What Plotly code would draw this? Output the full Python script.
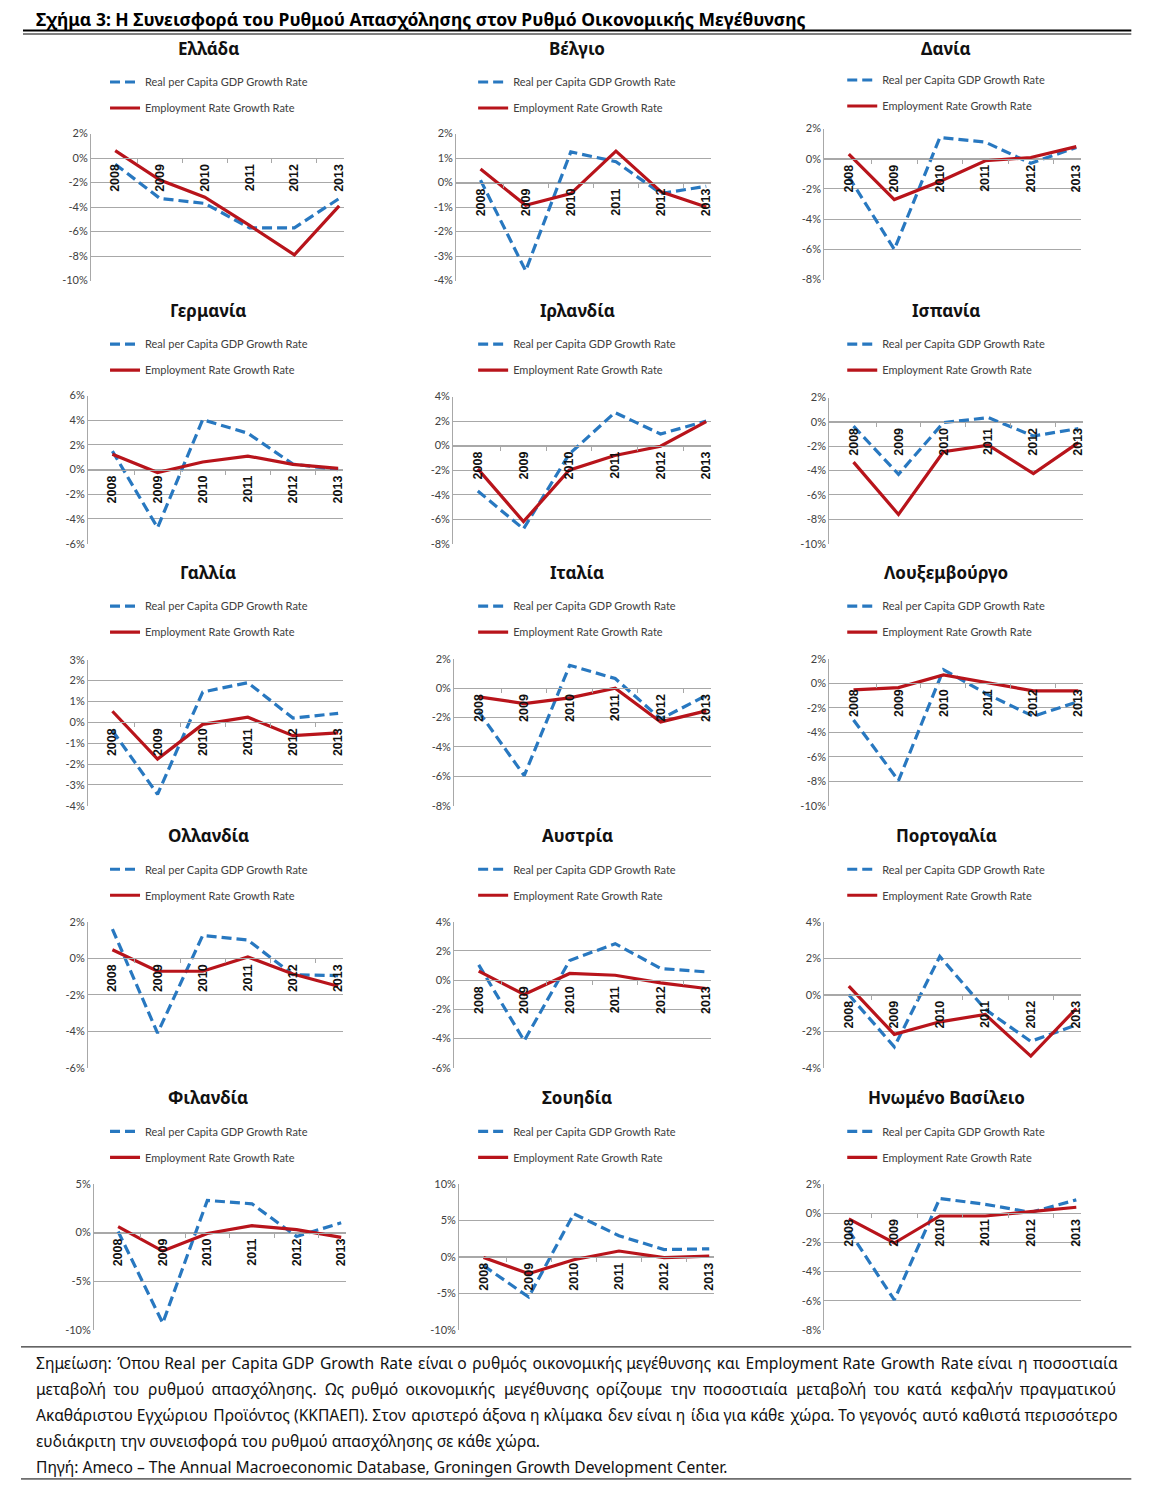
import plotly.graph_objects as go

W, H = 1167, 1494

years = [2008, 2009, 2010, 2011, 2012, 2013]
year_labels = ["2008", "2009", "2010", "2011", "2012", "2013"]

countries = ["Ελλάδα", "Βέλγιο", "Δανία",
             "Γερμανία", "Ιρλανδία", "Ισπανία",
             "Γαλλία", "Ιταλία", "Λουξεμβούργο",
             "Ολλανδία", "Αυστρία", "Πορτογαλία",
             "Φιλανδία", "Σουηδία", "Ηνωμένο Βασίλειο"]

series_names = ["Real per Capita GDP Growth Rate", "Employment Rate Growth Rate"]

# Real per capita GDP growth rate (%)
gdp_greece = [-0.5, -3.3, -3.7, -5.7, -5.7, -3.3]
gdp_belgium = [0.1, -3.6, 1.25, 0.85, -0.45, -0.15]
gdp_denmark = [-1.2, -6.0, 1.4, 1.1, -0.3, 0.75]
gdp_germany = [1.5, -4.7, 4.05, 2.95, 0.45, 0.0]
gdp_ireland = [-3.7, -6.8, -0.7, 2.7, 0.95, 2.0]
gdp_spain = [-0.35, -4.3, -0.05, 0.35, -1.15, -0.55]
gdp_france = [-0.4, -3.45, 1.45, 1.9, 0.2, 0.43]
gdp_italy = [-1.6, -5.95, 1.55, 0.65, -2.1, -0.5]
gdp_luxembourg = [-3.0, -7.95, 1.1, -0.95, -2.7, -1.5]
gdp_netherlands = [1.6, -4.1, 1.25, 1.0, -0.9, -0.95]
gdp_austria = [1.05, -4.15, 1.35, 2.5, 0.8, 0.57]
gdp_portugal = [0.0, -2.85, 2.1, -0.8, -2.55, -1.65]
gdp_finland = [0.1, -9.3, 3.3, 2.95, -0.4, 1.0]
gdp_sweden = [-1.2, -5.5, 5.9, 2.9, 1.0, 1.1]
gdp_uk = [-1.2, -5.95, 1.0, 0.6, 0.05, 0.9]

# Employment rate growth rate (%)
emp_greece = [0.6, -1.8, -3.2, -5.5, -7.9, -3.9]
emp_belgium = [0.55, -0.93, -0.45, 1.28, -0.38, -1.0]
emp_denmark = [0.3, -2.7, -1.5, -0.13, 0.08, 0.8]
emp_germany = [1.25, -0.24, 0.62, 1.1, 0.43, 0.1]
emp_ireland = [-1.9, -6.2, -2.0, -0.8, -0.05, 1.96]
emp_spain = [-3.3, -7.6, -2.45, -1.9, -4.25, -1.7]
emp_france = [0.53, -1.76, -0.1, 0.24, -0.64, -0.51]
emp_italy = [-0.6, -1.05, -0.66, 0.0, -2.3, -1.55]
emp_luxembourg = [-0.55, -0.36, 0.68, 0.05, -0.63, -0.63]
emp_netherlands = [0.47, -0.71, -0.71, 0.07, -0.86, -1.53]
emp_austria = [0.62, -0.98, 0.46, 0.34, -0.18, -0.57]
emp_portugal = [0.47, -2.17, -1.48, -1.08, -3.36, -0.75]
emp_finland = [0.6, -1.9, -0.1, 0.7, 0.3, -0.5]
emp_sweden = [-0.1, -2.3, -0.4, 0.8, -0.1, 0.1]
emp_uk = [-0.4, -2.05, -0.2, -0.2, 0.1, 0.4]

gdp_all = [gdp_greece, gdp_belgium, gdp_denmark, gdp_germany, gdp_ireland, gdp_spain,
           gdp_france, gdp_italy, gdp_luxembourg, gdp_netherlands, gdp_austria, gdp_portugal,
           gdp_finland, gdp_sweden, gdp_uk]
emp_all = [emp_greece, emp_belgium, emp_denmark, emp_germany, emp_ireland, emp_spain,
           emp_france, emp_italy, emp_luxembourg, emp_netherlands, emp_austria, emp_portugal,
           emp_finland, emp_sweden, emp_uk]

# y-axis tick values (%) for each panel
yticks_all = [
    [-10, -8, -6, -4, -2, 0, 2],
    [-4, -3, -2, -1, 0, 1, 2],
    [-8, -6, -4, -2, 0, 2],
    [-6, -4, -2, 0, 2, 4, 6],
    [-8, -6, -4, -2, 0, 2, 4],
    [-10, -8, -6, -4, -2, 0, 2],
    [-4, -3, -2, -1, 0, 1, 2, 3],
    [-8, -6, -4, -2, 0, 2],
    [-10, -8, -6, -4, -2, 0, 2],
    [-6, -4, -2, 0, 2],
    [-6, -4, -2, 0, 2, 4],
    [-4, -2, 0, 2, 4],
    [-10, -5, 0, 5],
    [-10, -5, 0, 5, 10],
    [-8, -6, -4, -2, 0, 2],
]

notes_lines = [
    "Σημείωση: Όπου Real per Capita GDP Growth Rate είναι ο ρυθμός οικονομικής μεγέθυνσης και Employment Rate Growth Rate είναι η ποσοστιαία",
    "μεταβολή του ρυθμού απασχόλησης. Ως ρυθμό οικονομικής μεγέθυνσης ορίζουμε την ποσοστιαία μεταβολή του κατά κεφαλήν πραγματικού",
    "Ακαθάριστου Εγχώριου Προϊόντος (ΚΚΠΑΕΠ). Στον αριστερό άξονα η κλίμακα δεν είναι η ίδια για κάθε χώρα. Το γεγονός αυτό καθιστά περισσότερο",
    "ευδιάκριτη την συνεισφορά του ρυθμού απασχόλησης σε κάθε χώρα.",
    "Πηγή: Ameco – The Annual Macroeconomic Database, Groningen Growth Development Center.",
]
heading = "Σχήμα 3: Η Συνεισφορά του Ρυθμού Απασχόλησης στον Ρυθμό Οικονομικής Μεγέθυνσης"

# ---------------- layout (target pixel boxes: left, right, top, bottom) ----------------
boxes = [
    (90, 343, 133, 280), (455, 710, 133, 280), (823, 1080, 128, 279),
    (87, 342, 395, 543), (452, 710, 396, 543), (828, 1082, 397, 543),
    (87, 342, 659, 805), (453, 710, 658, 805), (828, 1082, 658, 805),
    (87, 342, 921, 1067), (453, 710, 921, 1067), (823, 1080, 921, 1067),
    (93, 345, 1183, 1329), (458, 713, 1183, 1329), (823, 1080, 1183, 1329),
]
title_cx = [207, 576, 945]
title_y = [48, 310, 572, 835, 1097]
legend_x = [104, 472, 841]
legend_top = [67, 329, 591, 854, 1116]
# approximate extra width (px) to spread over the word gaps (justified text)
justify_extra = [22, 58, 10, 0, 0]

BLUE = "#2878c0"
RED = "#b8141b"
GRID = "#a8a8a8"
XR = [2007.46, 2013.11]

# page-offset calibration (the page places the figure slightly offset/scaled)
OX, SX = 7.0, 0.998
OY, SY = 14.5, 0.991


def px_x(v):
    return ((v - OX) / SX) / W


def px_y(v):
    return 1 - ((v - OY) / SY) / H


def justify(text, extra, unit=1.6):
    words = text.split(" ")
    gaps = len(words) - 1
    if extra <= 0 or gaps <= 0:
        return text
    total = extra / unit
    out, acc, used = words[0], 0.0, 0
    for k, w in enumerate(words[1:], start=1):
        acc = total * k / gaps
        cnt = int(round(acc)) - used
        used += cnt
        out += " " + "\u200a" * cnt + w
    return out


fig = go.Figure()
layout = dict(
    width=W, height=H, margin=dict(l=0, r=0, t=0, b=0),
    paper_bgcolor="white", plot_bgcolor="white",
    font=dict(family="Lato, Open Sans, sans-serif", color="#404040", size=11),
)
annotations = []
shapes = []

for i, name in enumerate(countries):
    n = "" if i == 0 else str(i + 1)
    l, r, t, b = boxes[i]
    ticks = yticks_all[i]
    ymin, ymax = ticks[0], ticks[-1]
    leg = "legend" + n
    row, col = divmod(i, 3)

    fig.add_trace(go.Scatter(
        x=years, y=gdp_all[i], mode="lines", name=series_names[0],
        line=dict(color=BLUE, width=3.2, dash="10px,5px"),
        xaxis="x" + n, yaxis="y" + n, legend=leg, legendgroup=f"a{i}",
        hoverinfo="skip"))
    fig.add_trace(go.Scatter(
        x=years, y=emp_all[i], mode="lines", name=series_names[1],
        line=dict(color=RED, width=3.2),
        xaxis="x" + n, yaxis="y" + n, legend=leg, legendgroup=f"b{i}",
        hoverinfo="skip"))

    zero_px = t + (ymax - 0) / (ymax - ymin) * (b - t)
    layout["xaxis" + n] = dict(
        domain=[px_x(l), px_x(r)], anchor="free", position=px_y(zero_px),
        range=XR, tickmode="array", tickvals=years, ticktext=year_labels,
        tickangle=-90, ticks="", showgrid=False, zeroline=False,
        showline=True, linecolor=GRID, linewidth=1,
        tickfont=dict(family="Liberation Sans, Arial", size=12.5, color="#111111", weight="bold"),
        minor=dict(tickmode="array", tickvals=[2008.5, 2009.5, 2010.5, 2011.5, 2012.5],
                   ticks="outside", ticklen=4, tickcolor=GRID),
        fixedrange=True,
    )
    layout["yaxis" + n] = dict(
        domain=[px_y(b), px_y(t)], anchor="x" + n, range=[ymin, ymax],
        tickmode="array", tickvals=ticks, ticktext=[f"{v}%" for v in ticks],
        showgrid=True, gridcolor=GRID, gridwidth=1, zeroline=False,
        showline=True, linecolor=GRID, linewidth=1, ticks="",
        tickfont=dict(family="Lato, sans-serif", size=11, color="#404040"),
        fixedrange=True,
    )
    legend_y = legend_top[row] - (2 if i == 2 else 0)
    layout[leg] = dict(
        x=px_x(legend_x[col]), y=px_y(legend_y), xanchor="left", yanchor="top",
        bgcolor="rgba(0,0,0,0)", borderwidth=0, tracegroupgap=7,
        itemwidth=30,
        font=dict(family="Lato, sans-serif", size=11, color="#404040"),
    )
    annotations.append(dict(
        x=px_x(title_cx[col]), y=px_y(title_y[row]), xref="paper", yref="paper",
        text=f"<b>{name}</b>", showarrow=False, xanchor="center", yanchor="middle",
        font=dict(family="Noto Sans, sans-serif", size=17, color="#111111")))

# heading
annotations.append(dict(
    x=px_x(33), y=px_y(18), xref="paper", yref="paper", text=f"<b>{heading}</b>",
    showarrow=False, xanchor="left", yanchor="middle",
    font=dict(family="Noto Sans, sans-serif", size=17.5, color="#000000")))
shapes += [
    dict(type="line", xref="paper", yref="paper", x0=px_x(22), x1=px_x(1130),
         y0=px_y(30), y1=px_y(30), line=dict(color="#000", width=2)),
    dict(type="line", xref="paper", yref="paper", x0=px_x(22), x1=px_x(1130),
         y0=px_y(33.5), y1=px_y(33.5), line=dict(color="#000", width=1)),
    dict(type="line", xref="paper", yref="paper", x0=px_x(20), x1=px_x(1130),
         y0=px_y(1346), y1=px_y(1346), line=dict(color="#000", width=1)),
    dict(type="line", xref="paper", yref="paper", x0=px_x(20), x1=px_x(1130),
         y0=px_y(1478), y1=px_y(1478), line=dict(color="#000", width=1)),
]
for k, line in enumerate(notes_lines):
    annotations.append(dict(
        x=px_x(33), y=px_y(1362 + 26 * k), xref="paper", yref="paper",
        text=justify(line, justify_extra[k]),
        showarrow=False, xanchor="left", yanchor="middle",
        font=dict(family="Noto Sans, sans-serif", size=15.6, color="#111111")))

layout["annotations"] = annotations
layout["shapes"] = shapes
fig.update_layout(**layout)
fig.write_html("out.html")
